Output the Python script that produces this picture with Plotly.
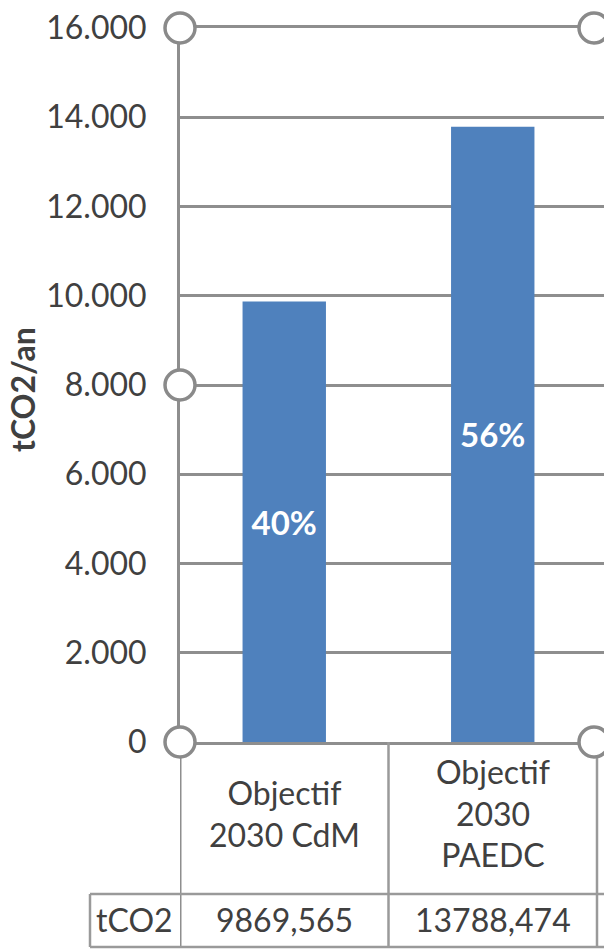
import plotly.graph_objects as go

# Chart data
categories = ["Objectif<br>2030 CdM", "Objectif<br>2030<br>PAEDC"]
emissions = [9869.565, 13788.474]          # tCO2 per year
shares = [40, 56]                          # share shown on each bar, %
row_label = "tCO2"
y_ticks = [0, 2000, 4000, 6000, 8000, 10000, 12000, 14000, 16000]

FONT = "Lato"
TEXT = "#404040"
GRID = "#8e8e8e"
TABLE = "#9a9a9a"
BAR = "#4f81bd"

W, H = 604, 950
L, R, T, B = 180, 0, 28, 208
plot_w = W - L - R
plot_h = H - T - B
cat_px = 208.5                               # pixel width of one category
x_range = [-0.5, -0.5 + plot_w / cat_px]


def py(pixel_y):
    """Pixel row -> paper y."""
    return (H - B - pixel_y) / plot_h


def px(pixel_x):
    """Pixel column -> paper x."""
    return (pixel_x - L) / plot_w


xs = list(range(len(categories)))

fig = go.Figure()
fig.add_trace(go.Bar(
    x=xs,
    y=emissions,
    width=0.4,
    marker=dict(color=BAR, line=dict(width=0)),
    text=[f"{s}%" for s in shares],
    textposition="inside",
    insidetextanchor="middle",
    textangle=0,
    textfont=dict(family=FONT, size=33, color="white", weight="bold"),
    hoverinfo="skip",
))

shapes = []
ann = []

# data table under the plot
top_row, mid_row, bot_row = 0, py(894), py(947)
for xv in [-0.5, 0.5, 1.5]:
    shapes.append(dict(type="line", xref="x", yref="paper", x0=xv, x1=xv,
                       y0=top_row, y1=bot_row,
                       line=dict(color=TABLE if xv != -0.5 else GRID,
                                 width=2.5 if xv != -0.5 else 3)))
for yv in [mid_row, bot_row]:
    shapes.append(dict(type="line", xref="paper", yref="paper", x0=px(90), x1=1.0,
                       y0=yv, y1=yv, line=dict(color=TABLE, width=2.5)))
shapes.append(dict(type="line", xref="paper", yref="paper", x0=px(90), x1=px(90),
                   y0=mid_row, y1=bot_row, line=dict(color=TABLE, width=2.5)))

for i, (cat, val) in enumerate(zip(categories, emissions)):
    ann.append(dict(x=i, y=py(813), xref="x", yref="paper", text=cat,
                    showarrow=False, xanchor="center", yanchor="middle",
                    font=dict(family=FONT, size=32, color=TEXT)))
    ann.append(dict(x=i, y=py(919), xref="x", yref="paper",
                    text=f"{val:.3f}".replace(".", ","),
                    showarrow=False, xanchor="center", yanchor="middle",
                    font=dict(family=FONT, size=32, color=TEXT)))
ann.append(dict(x=px(134), y=py(919), xref="paper", yref="paper", text=row_label,
                showarrow=False, xanchor="center", yanchor="middle",
                font=dict(family=FONT, size=32, color=TEXT)))

# y-axis title
ann.append(dict(x=px(22), y=py(390), xref="paper", yref="paper", text="tCO2/an",
                textangle=-90, showarrow=False, xanchor="center", yanchor="middle",
                font=dict(family=FONT, size=32, color=TEXT, weight="bold")))

# selection handles on the plot-area border (paper coordinates, not clipped)
handle_pos = [(0, 1), (0, 0.5), (0, 0), (px(594), 1), (px(594), 0)]
for hx, hy in handle_pos:
    shapes.append(dict(type="circle", xref="paper", yref="paper",
                       xsizemode="pixel", ysizemode="pixel",
                       xanchor=hx, yanchor=hy, x0=-15, x1=15, y0=-15, y1=15,
                       fillcolor="white", line=dict(color="#8a8a8a", width=3.5),
                       layer="above"))

fig.update_layout(
    width=W, height=H,
    margin=dict(l=L, r=R, t=T, b=B, pad=0),
    autosize=False,
    paper_bgcolor="white",
    plot_bgcolor="white",
    showlegend=False,
    separators=",.",
    bargap=0.6,
    shapes=shapes,
    annotations=ann,
    xaxis=dict(range=x_range, showticklabels=False, showgrid=False,
               zeroline=False, showline=True, mirror=True,
               linecolor=GRID, linewidth=2.5,
               ticks="", fixedrange=True),
    yaxis=dict(range=[0, 16000], tickvals=y_ticks, tickformat=",.0f",
               showgrid=True, gridcolor=GRID, gridwidth=2.5,
               zeroline=False, showline=True, linecolor=GRID, linewidth=3,
               ticks="", ticklabelstandoff=24,
               tickfont=dict(family=FONT, size=32, color=TEXT),
               fixedrange=True),
)

fig.write_html("out.html")
